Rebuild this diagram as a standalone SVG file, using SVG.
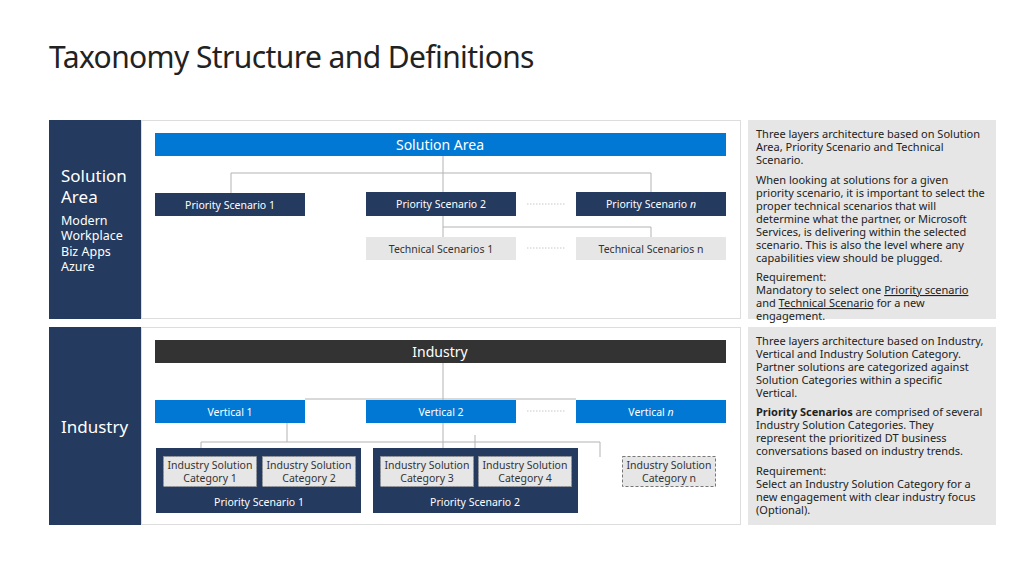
<svg xmlns="http://www.w3.org/2000/svg" width="1024" height="575" viewBox="0 0 1024 575">
<style>
text{font-family:"Noto Sans","Open Sans",sans-serif}
.navy{fill:#243a5e}
.blue{fill:#0078d4}
.lt{fill:#e6e6e6}
.w{fill:#fff;font-size:10.5px;text-anchor:middle}
.big{font-size:14px}
.d{fill:#333;font-size:10.5px;text-anchor:middle}
.c{stroke:#b3b3b3;stroke-width:1;fill:none}
.dot{stroke:#c8c8c8;stroke-width:1;stroke-dasharray:1.5 1.5}
.desc{fill:#222;font-size:11px}
</style>
<rect width="1024" height="575" fill="#fff"/>
<text x="49" y="68" font-size="30" fill="#222" letter-spacing="-0.6">Taxonomy Structure and Definitions</text>
<g id="panels">
<rect x="49" y="120" width="92" height="199" class="navy"/>
<rect x="141.5" y="120.5" width="599" height="198" fill="#fff" stroke="#ddd"/>
<rect x="748" y="120" width="248" height="199" fill="#e6e6e6"/>
<rect x="49" y="327" width="92" height="198" class="navy"/>
<rect x="141.5" y="327.5" width="599" height="197" fill="#fff" stroke="#ddd"/>
<rect x="748" y="327" width="248" height="198" fill="#e6e6e6"/>
<text x="61" y="182" font-size="17" fill="#fff">Solution</text>
<text x="61" y="203" font-size="17" fill="#fff">Area</text>
<text x="61" y="225" font-size="12.5" fill="#fff">Modern</text>
<text x="61" y="240" font-size="12.5" fill="#fff">Workplace</text>
<text x="61" y="256" font-size="12.5" fill="#fff">Biz Apps</text>
<text x="61" y="271" font-size="12.5" fill="#fff">Azure</text>
<text x="61" y="433" font-size="17" fill="#fff">Industry</text>
</g>
<g id="connectors">
<path class="c" d="M443 156V192M231 193V173H651V192M443 216V237M443 227H651V237"/>
<path class="c" d="M443 363V400M305 399H576M201 448V442H600V457M287 423V442M443 423V457M475 435V457"/>
<line class="dot" x1="527" y1="204" x2="566" y2="204"/>
<line class="dot" x1="527" y1="248" x2="566" y2="248"/>
<line class="dot" x1="527" y1="411" x2="566" y2="411"/>
</g>
<g id="solution-area"><rect x="155" y="133" width="571" height="23" class="blue"/><text x="440" y="149.5" class="w big">Solution Area</text></g>
<g id="ps1"><rect x="155" y="193" width="150" height="23" class="navy"/><text x="230" y="209" class="w">Priority Scenario 1</text></g>
<g id="ps2"><rect x="366" y="192" width="150" height="24" class="navy"/><text x="441" y="208" class="w">Priority Scenario 2</text></g>
<g id="psn"><rect x="576" y="192" width="150" height="24" class="navy"/><text x="651" y="208" class="w">Priority Scenario <tspan font-style="italic">n</tspan></text></g>
<g id="ts1"><rect x="366" y="237" width="150" height="23" class="lt"/><text x="441" y="253" class="d">Technical Scenarios 1</text></g>
<g id="tsn"><rect x="576" y="237" width="150" height="23" class="lt"/><text x="651" y="253" class="d">Technical Scenarios n</text></g>
<g id="industry"><rect x="155" y="340" width="571" height="23" fill="#333"/><text x="440" y="356.5" class="w big">Industry</text></g>
<g id="v1"><rect x="155" y="400" width="150" height="23" class="blue"/><text x="230" y="416" class="w">Vertical 1</text></g>
<g id="v2"><rect x="366" y="400" width="150" height="23" class="blue"/><text x="441" y="416" class="w">Vertical 2</text></g>
<g id="vn"><rect x="576" y="400" width="150" height="23" class="blue"/><text x="651" y="416" class="w">Vertical <tspan font-style="italic">n</tspan></text></g>
<g id="ips1"><rect x="156" y="448" width="205" height="65" class="navy"/><text x="259" y="506" class="w">Priority Scenario 1</text></g>
<g id="ips2"><rect x="373" y="448" width="205" height="65" class="navy"/><text x="475" y="506" class="w">Priority Scenario 2</text></g>
<g id="isc1"><rect x="163.5" y="456.5" width="93" height="30" class="lt" stroke="#999" stroke-dasharray="2 1.5"/><text x="210" y="468.5" class="d">Industry Solution</text><text x="210" y="481.5" class="d">Category 1</text></g>
<g id="isc2"><rect x="262.5" y="456.5" width="93" height="30" class="lt" stroke="#999" stroke-dasharray="2 1.5"/><text x="309" y="468.5" class="d">Industry Solution</text><text x="309" y="481.5" class="d">Category 2</text></g>
<g id="isc3"><rect x="380.5" y="456.5" width="93" height="30" class="lt" stroke="#999" stroke-dasharray="2 1.5"/><text x="427" y="468.5" class="d">Industry Solution</text><text x="427" y="481.5" class="d">Category 3</text></g>
<g id="isc4"><rect x="478.5" y="456.5" width="93" height="30" class="lt" stroke="#999" stroke-dasharray="2 1.5"/><text x="525" y="468.5" class="d">Industry Solution</text><text x="525" y="481.5" class="d">Category 4</text></g>
<g id="iscn"><rect x="622.5" y="456.5" width="93" height="30" class="lt" stroke="#777" stroke-dasharray="3 2"/><text x="669" y="468.5" class="d">Industry Solution</text><text x="669" y="481.5" class="d">Category n</text></g>
<g id="desc1" class="desc">
<text x="756" y="138">Three layers architecture based on Solution</text>
<text x="756" y="151">Area, Priority Scenario and Technical</text>
<text x="756" y="164">Scenario.</text>
<text x="756" y="184">When looking at solutions for a given</text>
<text x="756" y="197">priority scenario, it is important to select the</text>
<text x="756" y="210">proper technical scenarios that will</text>
<text x="756" y="223">determine what the partner, or Microsoft</text>
<text x="756" y="236">Services, is delivering within the selected</text>
<text x="756" y="249">scenario. This is also the level where any</text>
<text x="756" y="262">capabilities view should be plugged.</text>
<text x="756" y="281">Requirement:</text>
<text x="756" y="294">Mandatory to select one <tspan text-decoration="underline">Priority scenario</tspan></text>
<text x="756" y="307"><tspan>and </tspan><tspan text-decoration="underline">Technical Scenario</tspan> for a new</text>
<text x="756" y="320">engagement.</text>
</g>
<g id="desc2" class="desc">
<text x="756" y="345">Three layers architecture based on Industry,</text>
<text x="756" y="358">Vertical and Industry Solution Category.</text>
<text x="756" y="371">Partner solutions are categorized against</text>
<text x="756" y="384">Solution Categories within a specific</text>
<text x="756" y="397">Vertical.</text>
<text x="756" y="416"><tspan font-weight="bold">Priority Scenarios</tspan> are comprised of several</text>
<text x="756" y="429">Industry Solution Categories. They</text>
<text x="756" y="442">represent the prioritized DT business</text>
<text x="756" y="455">conversations based on industry trends.</text>
<text x="756" y="475">Requirement:</text>
<text x="756" y="488">Select an Industry Solution Category for a</text>
<text x="756" y="501">new engagement with clear industry focus</text>
<text x="756" y="514">(Optional).</text>
</g>
</svg>
